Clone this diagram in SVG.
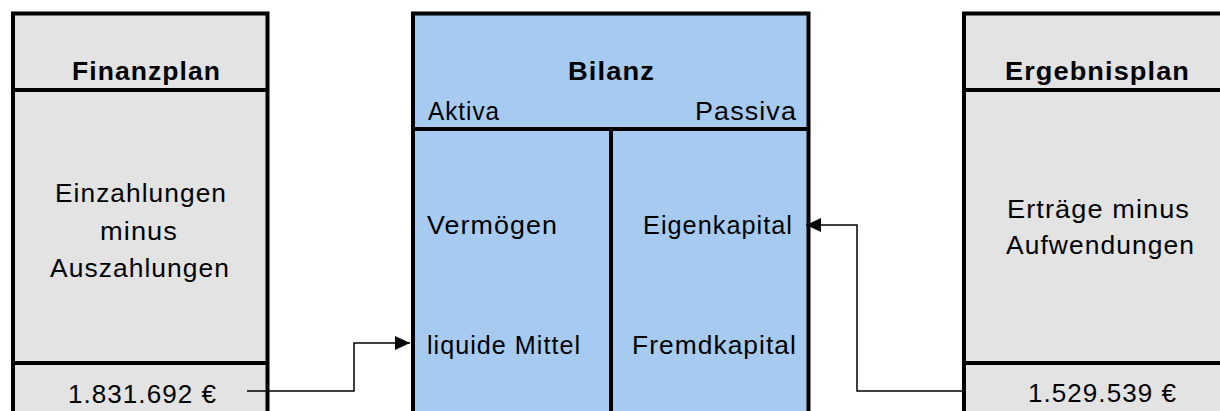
<svg xmlns="http://www.w3.org/2000/svg" width="1220" height="411" viewBox="0 0 1220 411">
<style>
.gray{fill:#E3E3E3;stroke:none}
.blue{fill:#A6CAF0;stroke:none}
.bd{stroke:#000;stroke-width:4;fill:none}
.t{font-family:"Liberation Sans",Arial,sans-serif;font-size:25px;fill:#000;letter-spacing:1px}
.b{font-family:"Liberation Sans",Arial,sans-serif;font-size:25px;font-weight:bold;fill:#000;letter-spacing:1px}
.conn{stroke:#000;stroke-width:1.5;fill:none}
</style>
<defs>
<marker id="ah" markerWidth="15" markerHeight="14" refX="15" refY="7" orient="auto" markerUnits="userSpaceOnUse">
<path d="M0,0 L15,7 L0,14 Z" fill="#000"/>
</marker>
</defs>
<g id="finanzplan">
<rect class="gray" x="13" y="13.5" width="254.5" height="400"/>
<path class="bd" d="M13,420 V13.5 H267.5 V420 M13,90 H267.5 M13,363 H267.5"/>
<text class="b" x="72" y="80" textLength="149" lengthAdjust="spacingAndGlyphs">Finanzplan</text>
<text class="t" x="55" y="202" textLength="172" lengthAdjust="spacingAndGlyphs">Einzahlungen</text>
<text class="t" x="100" y="240" textLength="78" lengthAdjust="spacingAndGlyphs">minus</text>
<text class="t" x="50" y="277" textLength="180" lengthAdjust="spacingAndGlyphs">Auszahlungen</text>
<text class="t" x="68" y="403" textLength="149" lengthAdjust="spacingAndGlyphs">1.831.692 €</text>
</g>
<g id="bilanz">
<rect class="blue" x="413" y="13.5" width="395.5" height="400"/>
<path class="bd" d="M413,420 V13.5 H808.5 V420 M413,129 H808.5 M611,129 V420"/>
<text class="b" x="568" y="80" textLength="87" lengthAdjust="spacingAndGlyphs">Bilanz</text>
<text class="t" x="428" y="120" textLength="72" lengthAdjust="spacingAndGlyphs">Aktiva</text>
<text class="t" x="695" y="120" textLength="102" lengthAdjust="spacingAndGlyphs">Passiva</text>
<text class="t" x="427" y="234" textLength="131" lengthAdjust="spacingAndGlyphs">Vermögen</text>
<text class="t" x="643" y="234" textLength="150" lengthAdjust="spacingAndGlyphs">Eigenkapital</text>
<text class="t" x="427" y="354" textLength="154" lengthAdjust="spacingAndGlyphs">liquide Mittel</text>
<text class="t" x="632" y="354" textLength="165" lengthAdjust="spacingAndGlyphs">Fremdkapital</text>
</g>
<g id="ergebnisplan">
<rect class="gray" x="964" y="13.5" width="270" height="400"/>
<path class="bd" d="M964,420 V13.5 H1240 M964,90 H1240 M964,363 H1240"/>
<text class="b" x="1005" y="80" textLength="185" lengthAdjust="spacingAndGlyphs">Ergebnisplan</text>
<text class="t" x="1007" y="218" textLength="183" lengthAdjust="spacingAndGlyphs">Erträge minus</text>
<text class="t" x="1006" y="254" textLength="189" lengthAdjust="spacingAndGlyphs">Aufwendungen</text>
<text class="t" x="1028" y="402" textLength="149" lengthAdjust="spacingAndGlyphs">1.529.539 €</text>
</g>
<g id="connectors">
<path class="conn" d="M247,391 H354 V343 H410" marker-end="url(#ah)"/>
<path class="conn" d="M962,391 H857 V225 H806" marker-end="url(#ah)"/>
</g>
</svg>
